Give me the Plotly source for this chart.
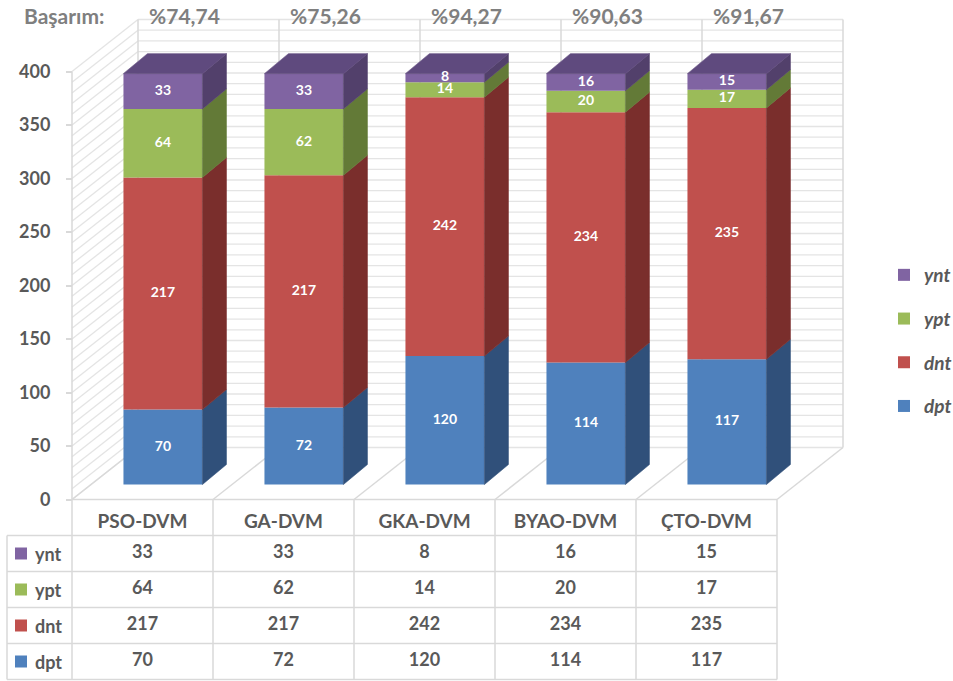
import plotly.graph_objects as go

# ---------------- data ----------------
categories = ["PSO-DVM", "GA-DVM", "GKA-DVM", "BYAO-DVM", "ÇTO-DVM"]
series_names = ["dpt", "dnt", "ypt", "ynt"]          # stacking order, bottom -> top
dpt = [70, 72, 120, 114, 117]
dnt = [217, 217, 242, 234, 235]
ypt = [64, 62, 14, 20, 17]
ynt = [33, 33, 8, 16, 15]
success_label = "Başarım:"
success = ["%74,74", "%75,26", "%94,27", "%90,63", "%91,67"]
y_ticks = [0, 50, 100, 150, 200, 250, 300, 350, 400]
minor_step = 10

values = {"dpt": dpt, "dnt": dnt, "ypt": ypt, "ynt": ynt}

# ---------------- style ----------------
front_col = {"dpt": "#4F81BD", "dnt": "#C0504D", "ypt": "#9BBB59", "ynt": "#8064A2"}
side_col = {"dpt": "#30507A", "dnt": "#7A2E2C", "ypt": "#637A37", "ynt": "#52406B"}
top_col = {"dpt": "#3C669A", "dnt": "#9A3E3B", "ypt": "#7B9645", "ynt": "#5F4A7E"}
TXT = "#595959"
HEAD = "#7F7F7F"
GRID = "#E4E4E4"
EDGE = "#D9D9D9"
FONT = "Lato"

W, H = 953, 681
PX_X = 141.0          # px per category
PX_Y = 1.07           # px per value unit
X0_PX = 72.0          # pixel of the front-left wall edge
Y0_PX = 499.5         # pixel of the front floor edge
x_range = [-0.5 - X0_PX / PX_X, -0.5 + (W - X0_PX) / PX_X]
y_range = [-(H - Y0_PX) / PX_Y, Y0_PX / PX_Y]

DX = 66 / PX_X        # full depth offset (oblique projection)
DY = 52 / PX_Y
BAR_SHIFT = 0.145
BAR_W = 0.56
LIFT = 14.0
BDX = 24 / PX_X
BDY = 20 / PX_Y
ROW_H = 36 / PX_Y
LABEL_LEFT = -0.5 - 65 / PX_X

n = len(categories)
y_top = max(y_ticks)

fig = go.Figure()
shapes = []


def line(x0, y0, x1, y1, color=GRID, width=1.3, layer="below"):
    shapes.append(dict(type="line", xref="x", yref="y", x0=x0, y0=y0, x1=x1, y1=y1,
                       line=dict(color=color, width=width), layer=layer))


# ---------------- walls (back wall, left wall, floor) ----------------
left = -0.5
right = n - 0.5
for v in range(0, y_top + 1, minor_step):
    line(left + DX, v + DY, right + DX, v + DY)              # back wall grid
    line(left, v, left + DX, v + DY)                          # left wall grid
for k in range(n + 1):
    line(left + k + DX, DY, left + k + DX, y_top + DY, color=EDGE, width=1.5)   # back wall dividers
    line(left + k, 0, left + k + DX, DY, color=EDGE, width=1.5)                 # floor lines
line(left, 0, left, y_top, color=EDGE, width=1.5)            # axis line
line(left, 0, right, 0, color=EDGE, width=1.5)               # floor front edge

# ---------------- data table grid ----------------
n_rows = len(series_names)
for r in range(1, n_rows + 2):
    line(LABEL_LEFT, -r * ROW_H, right, -r * ROW_H, color=EDGE, width=1.5)
for k in range(n + 1):
    line(left + k, 0, left + k, -(n_rows + 1) * ROW_H, color=EDGE, width=1.5)
line(LABEL_LEFT, -ROW_H, LABEL_LEFT, -(n_rows + 1) * ROW_H, color=EDGE, width=1.5)

# ---------------- bars ----------------
cum = [0] * n
bases = {}
for s in series_names:
    bases[s] = list(cum)
    cum = [c + v for c, v in zip(cum, values[s])]

legend_rank = {s: len(series_names) - i for i, s in enumerate(series_names)}
xs = [i + BAR_SHIFT for i in range(n)]

for s in series_names:
    fig.add_trace(go.Bar(
        x=xs, y=values[s], base=[b + LIFT for b in bases[s]], width=BAR_W,
        marker=dict(color=front_col[s], line=dict(width=0)),
        name=s, legendgroup=s, legendrank=legend_rank[s],
        textposition="none", hoverinfo="skip"))

# side faces
for s in series_names:
    px, py = [], []
    for i in range(n):
        xr = xs[i] + BAR_W / 2
        b = bases[s][i] + LIFT
        t = b + values[s][i]
        px += [xr, xr + BDX, xr + BDX, xr, xr, None]
        py += [b, b + BDY, t + BDY, t, b, None]
    fig.add_trace(go.Scatter(x=px, y=py, mode="lines", fill="toself",
                             fillcolor=side_col[s], line=dict(width=0.6, color=side_col[s]),
                             showlegend=False, hoverinfo="skip"))

# top faces (top-most series)
s_top = series_names[-1]
px, py = [], []
for i in range(n):
    xl = xs[i] - BAR_W / 2
    xr = xs[i] + BAR_W / 2
    t = bases[s_top][i] + values[s_top][i] + LIFT
    px += [xl, xl + BDX, xr + BDX, xr, xl, None]
    py += [t, t + BDY, t + BDY, t, t, None]
fig.add_trace(go.Scatter(x=px, y=py, mode="lines", fill="toself",
                         fillcolor=top_col[s_top], line=dict(width=0.6, color=top_col[s_top]),
                         showlegend=False, hoverinfo="skip"))

# value labels inside bars
for s in series_names:
    fig.add_trace(go.Scatter(
        x=xs, y=[b + v / 2 + LIFT for b, v in zip(bases[s], values[s])],
        mode="text", text=[str(v) for v in values[s]],
        textfont=dict(family=FONT, size=14, color="white", weight="bold"),
        showlegend=False, hoverinfo="skip", cliponaxis=False))

# ---------------- table contents ----------------
fig.add_trace(go.Scatter(
    x=list(range(n)), y=[-ROW_H * 0.65] * n, mode="text", text=categories,
    textfont=dict(family=FONT, size=19, color=TXT, weight="bold"),
    showlegend=False, hoverinfo="skip", cliponaxis=False))

table_order = list(reversed(series_names))
for r, s in enumerate(table_order):
    yc = -(r + 1.5) * ROW_H
    fig.add_trace(go.Scatter(
        x=list(range(n)), y=[yc] * n, mode="text", text=[str(v) for v in values[s]],
        textfont=dict(family=FONT, size=18, color=TXT, weight="bold"),
        showlegend=False, hoverinfo="skip", cliponaxis=False))
    fig.add_trace(go.Scatter(
        x=[LABEL_LEFT + 14 / PX_X], y=[yc], mode="markers",
        marker=dict(symbol="square", size=12, color=front_col[s], line=dict(width=0)),
        showlegend=False, hoverinfo="skip", cliponaxis=False))
    fig.add_annotation(x=LABEL_LEFT + 26 / PX_X, y=yc, xref="x", yref="y", text=s,
                       showarrow=False, xanchor="left", yanchor="middle",
                       font=dict(family=FONT, size=18, color=TXT, weight="bold"))

# ---------------- success header ----------------
head_y = y_top + DY + 4
fig.add_annotation(x=-0.5 - 8 / PX_X, y=head_y, xref="x", yref="y", text=success_label,
                   showarrow=False, xanchor="center", yanchor="middle",
                   font=dict(family=FONT, size=21, color=HEAD, weight="bold"))
for i, t in enumerate(success):
    fig.add_annotation(x=i + 0.30, y=head_y, xref="x", yref="y", text=t,
                       showarrow=False, xanchor="center", yanchor="middle",
                       font=dict(family=FONT, size=21, color=HEAD, weight="bold"))

fig.update_layout(
    width=W, height=H,
    margin=dict(l=0, r=0, t=0, b=0, autoexpand=False),
    paper_bgcolor="white", plot_bgcolor="white",
    barmode="overlay",
    shapes=shapes,
    hovermode=False,
    showlegend=True,
    legend=dict(x=884 / W, y=1 - 256 / H, xanchor="left", yanchor="top",
                traceorder="grouped", tracegroupgap=16,
                font=dict(family=FONT, size=19, color=TXT, weight="bold", style="italic"),
                bgcolor="rgba(0,0,0,0)"),
    xaxis=dict(range=x_range, visible=False, fixedrange=True),
    yaxis=dict(range=y_range, anchor="free", position=X0_PX / W,
               tickvals=y_ticks, ticks="outside", ticklen=6, tickcolor=EDGE, tickwidth=1.5,
               showgrid=False, zeroline=False, showline=False,
               ticklabelstandoff=12,
               tickfont=dict(family=FONT, size=18, color=TXT, weight="bold"),
               fixedrange=True),
)

fig.write_html("out.html", config={"displayModeBar": False},
               post_script="document.body.style.margin='0';document.body.style.overflow='hidden';")
